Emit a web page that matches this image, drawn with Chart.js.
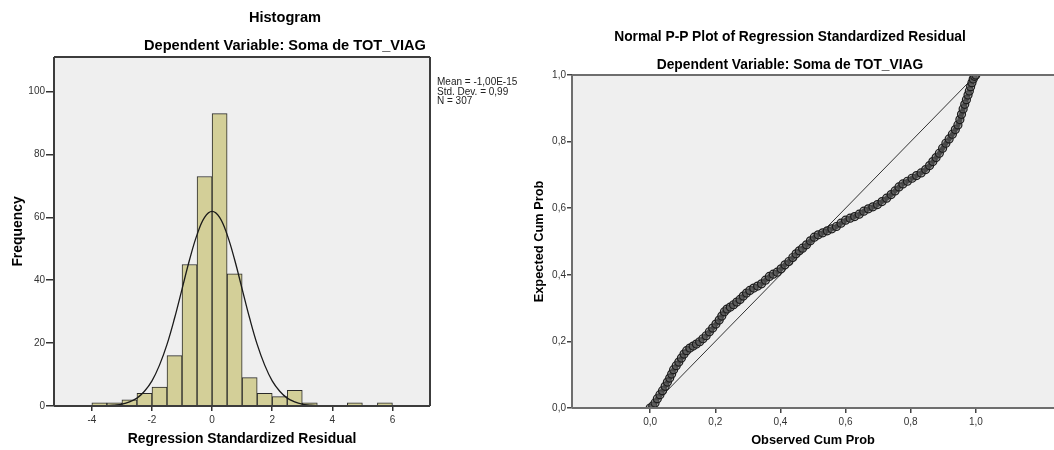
<!DOCTYPE html>
<html>
<head>
<meta charset="utf-8">
<script src="https://cdn.jsdelivr.net/npm/chart.js@4.4.0/dist/chart.umd.min.js"></script>
<style>
  html, body { margin: 0; padding: 0; background: #fff; overflow: hidden; }
  body { width: 1054px; height: 450px; position: relative; font-family: "Liberation Sans", Arial, sans-serif; }
  canvas { position: absolute; top: 0; }
  #histCanvas { left: 0; }
  #ppCanvas { left: 520px; }
  .title { position: absolute; text-align: center; font-weight: bold; color: #000; line-height: 1; white-space: nowrap; }
  .stats { position: absolute; left: 437px; top: 77px; font-size: 10px; line-height: 9.5px; color: #222; white-space: nowrap; }
</style>
</head>
<body>
<canvas id="histCanvas" width="520" height="450"></canvas>
<canvas id="ppCanvas" width="560" height="450"></canvas>

<div class="title" style="left:0;width:570px;top:10px;font-size:14.6px">Histogram</div>
<div class="title" style="left:0;width:570px;top:38px;font-size:14.6px">Dependent Variable: Soma de TOT_VIAG</div>
<div class="stats">Mean = -1,00E-15<br>Std. Dev. = 0,99<br>N = 307</div>
<div class="title" style="left:520px;width:540px;top:30px;font-size:13.8px">Normal P-P Plot of Regression Standardized Residual</div>
<div class="title" style="left:520px;width:540px;top:57.5px;font-size:13.8px">Dependent Variable: Soma de TOT_VIAG</div>

<script>
// Histogram bins (centre of each 0.5 wide bin) and counts
const binCenters = [-3.75, -3.25, -2.75, -2.25, -1.75, -1.25, -0.75, -0.25, 0.25, 0.75,
                    1.25, 1.75, 2.25, 2.75, 3.25, 3.75, 4.25, 4.75, 5.25, 5.75];
const binCounts = [1, 1, 2, 4, 6, 16, 45, 73, 93, 42,
                   9, 4, 3, 5, 1, 0, 0, 1, 0, 1];

// normal curve
const curveX = [-4, -3.75, -3.5, -3.25, -3, -2.75, -2.5, -2.25, -2, -1.75, -1.5, -1.25, -1, -0.75, -0.5, -0.25,
                0, 0.25, 0.5, 0.75, 1, 1.25, 1.5, 1.75, 2, 2.25, 2.5, 2.75, 3, 3.25, 3.5, 3.75, 4];
const curveY = [0, 0.1, 0.1, 0.3, 0.6, 1.3, 2.5, 4.7, 8.0, 13.0, 19.6, 27.9, 37.2, 46.5, 54.5, 60.0,
                61.9, 60.0, 54.5, 46.5, 37.2, 27.9, 19.6, 13.0, 8.0, 4.7, 2.5, 1.3, 0.6, 0.3, 0.1, 0.1, 0];

const histXTicks = [-4, -2, 0, 2, 4, 6];
const histYTicks = [0, 20, 40, 60, 80, 100];

// P-P plot: observed vs expected cumulative probability
const ppObserved = [0.000, 0.008, 0.015, 0.022, 0.030, 0.038, 0.046, 0.053, 0.060, 0.066,
  0.072, 0.080, 0.088, 0.096, 0.104, 0.112, 0.122, 0.132, 0.142, 0.152,
  0.162, 0.172, 0.182, 0.192, 0.202, 0.212, 0.220, 0.228, 0.236, 0.246,
  0.256, 0.266, 0.276, 0.286, 0.296, 0.306, 0.318, 0.330, 0.342, 0.354,
  0.366, 0.378, 0.390, 0.402, 0.414, 0.426, 0.438, 0.448, 0.458, 0.468,
  0.480, 0.492, 0.504, 0.516, 0.530, 0.544, 0.558, 0.572, 0.586, 0.600,
  0.614, 0.628, 0.642, 0.656, 0.670, 0.684, 0.698, 0.712, 0.726, 0.740,
  0.752, 0.764, 0.776, 0.790, 0.804, 0.818, 0.832, 0.846, 0.858, 0.868,
  0.878, 0.888, 0.898, 0.908, 0.918, 0.928, 0.937, 0.945, 0.951, 0.956,
  0.961, 0.966, 0.971, 0.976, 0.980, 0.984, 0.988, 0.992, 0.996, 1.000];
const ppExpected = [0.000, 0.006, 0.015, 0.028, 0.040, 0.052, 0.065, 0.078, 0.090, 0.102,
  0.115, 0.127, 0.138, 0.150, 0.162, 0.172, 0.180, 0.186, 0.192, 0.199,
  0.208, 0.217, 0.229, 0.240, 0.252, 0.264, 0.276, 0.289, 0.297, 0.303,
  0.310, 0.318, 0.326, 0.336, 0.345, 0.353, 0.360, 0.366, 0.373, 0.384,
  0.395, 0.402, 0.408, 0.418, 0.430, 0.440, 0.452, 0.463, 0.472, 0.480,
  0.490, 0.502, 0.513, 0.520, 0.526, 0.532, 0.538, 0.545, 0.555, 0.564,
  0.570, 0.575, 0.582, 0.591, 0.598, 0.604, 0.611, 0.620, 0.630, 0.641,
  0.652, 0.664, 0.673, 0.681, 0.690, 0.698, 0.706, 0.716, 0.728, 0.740,
  0.752, 0.765, 0.780, 0.795, 0.808, 0.822, 0.836, 0.850, 0.866, 0.882,
  0.898, 0.912, 0.926, 0.940, 0.952, 0.965, 0.977, 0.988, 0.996, 1.000];
const diagLine = [0, 1];

const ppTicks = [0, 0.2, 0.4, 0.6, 0.8, 1.0];
const ppTickLabels = ['0,0', '0,2', '0,4', '0,6', '0,8', '1,0'];

const FONT = '"Liberation Sans", Arial, sans-serif';
Chart.defaults.font.family = FONT;

// plot background + frame lines
const frame = {
  id: 'frame',
  beforeDraw(chart, args, opts) {
    const { ctx, chartArea: a } = chart;
    ctx.save();
    ctx.fillStyle = opts.fill;
    ctx.fillRect(a.left, a.top, a.width, a.height);
    ctx.restore();
  },
  afterDraw(chart, args, opts) {
    const { ctx, chartArea: a } = chart;
    ctx.save();
    ctx.strokeStyle = opts.color;
    ctx.lineWidth = opts.width;
    ctx.beginPath();
    if (opts.sides.includes('top')) { ctx.moveTo(a.left, a.top); ctx.lineTo(a.right, a.top); }
    if (opts.sides.includes('bottom')) { ctx.moveTo(a.left, a.bottom); ctx.lineTo(a.right, a.bottom); }
    if (opts.sides.includes('left')) { ctx.moveTo(a.left, a.top); ctx.lineTo(a.left, a.bottom); }
    if (opts.sides.includes('right')) { ctx.moveTo(a.right, a.top); ctx.lineTo(a.right, a.bottom); }
    ctx.stroke();
    ctx.restore();
  }
};

// Histogram
const barPoints = binCenters.map((x, i) => ({ x, y: binCounts[i] > 0 ? binCounts[i] : null }));
const curvePoints = curveX.map((x, i) => ({ x, y: curveY[i] }));

new Chart(document.getElementById('histCanvas'), {
  type: 'bar',
  data: {
    datasets: [
      {
        type: 'line',
        data: curvePoints,
        borderColor: '#1a1a1a',
        borderWidth: 1.3,
        pointRadius: 0,
        tension: 0.4,
        order: 0
      },
      {
        type: 'bar',
        data: barPoints,
        backgroundColor: '#d3cf98',
        borderColor: '#2a2a2a',
        borderWidth: 1,
        barPercentage: 1,
        categoryPercentage: 1,
        order: 1
      }
    ]
  },
  options: {
    responsive: false,
    animation: false,
    layout: { padding: { top: 57, right: 90, bottom: 0, left: 0 } },
    plugins: {
      legend: { display: false },
      tooltip: { enabled: false },
      frame: { fill: '#efefef', color: '#3c3c3c', width: 2, sides: ['top', 'bottom', 'left', 'right'] }
    },
    scales: {
      x: {
        type: 'linear',
        min: -5.26,
        max: 7.25,
        offset: false,
        afterBuildTicks: (axis) => { axis.ticks = histXTicks.map(v => ({ value: v })); },
        afterFit: (axis) => { axis.height = 44; },
        grid: { offset: false, drawOnChartArea: false, tickLength: 5, color: '#333', lineWidth: 1.5 },
        border: { display: false },
        ticks: { autoSkip: false, maxRotation: 0, padding: 3, color: '#333', font: { size: 10 } },
        title: {
          display: true, text: 'Regression Standardized Residual', color: '#000',
          font: { size: 13.9, weight: 'bold' }, padding: { top: 0, bottom: 2 }
        }
      },
      y: {
        min: 0,
        max: 111,
        afterBuildTicks: (axis) => { axis.ticks = histYTicks.map(v => ({ value: v })); },
        afterFit: (axis) => { axis.width = 54; },
        grid: { drawOnChartArea: false, tickLength: 8, color: '#333', lineWidth: 1.5 },
        border: { display: false },
        ticks: { autoSkip: false, padding: 1, color: '#333', font: { size: 10 } },
        title: {
          display: true, text: 'Frequency', color: '#000',
          font: { size: 13.9, weight: 'bold' }, padding: { top: 10, bottom: 0 }
        }
      }
    }
  },
  plugins: [frame]
});

// Normal P-P plot
const ppPoints = ppObserved.map((x, i) => ({ x, y: ppExpected[i] }));
const diagPoints = diagLine.map(v => ({ x: v, y: v }));

new Chart(document.getElementById('ppCanvas'), {
  type: 'scatter',
  data: {
    datasets: [
      {
        data: diagPoints,
        showLine: true,
        borderColor: '#333',
        borderWidth: 1,
        pointRadius: 0,
        order: 1
      },
      {
        data: ppPoints,
        showLine: true,
        borderColor: '#262626',
        borderWidth: 5,
        pointRadius: 4,
        pointBorderWidth: 1.2,
        pointBorderColor: '#1c1c1c',
        pointBackgroundColor: 'rgba(110,110,110,0.5)',
        order: 0
      }
    ]
  },
  options: {
    responsive: false,
    animation: false,
    layout: { padding: { top: 75, right: 26, bottom: 0, left: 0 } },
    plugins: {
      legend: { display: false },
      tooltip: { enabled: false },
      frame: { fill: '#efefef', color: '#6e6e6e', width: 2, sides: ['top', 'bottom', 'left'] }
    },
    scales: {
      x: {
        type: 'linear',
        min: -0.24,
        max: 1.24,
        afterBuildTicks: (axis) => { axis.ticks = ppTicks.map(v => ({ value: v })); },
        afterFit: (axis) => { axis.height = 42; },
        grid: { drawOnChartArea: false, tickLength: 5, color: '#444', lineWidth: 1.5 },
        border: { display: false },
        ticks: {
          autoSkip: false, maxRotation: 0, padding: 3, color: '#333', font: { size: 10 },
          callback: (v) => ppTickLabels[ppTicks.indexOf(v)]
        },
        title: {
          display: true, text: 'Observed Cum Prob', color: '#000',
          font: { size: 12.8, weight: 'bold' }, padding: { top: 0, bottom: 2 }
        }
      },
      y: {
        min: 0,
        max: 1,
        afterBuildTicks: (axis) => { axis.ticks = ppTicks.map(v => ({ value: v })); },
        afterFit: (axis) => { axis.width = 52; },
        grid: { drawOnChartArea: false, tickLength: 5, color: '#444', lineWidth: 1.5 },
        border: { display: false },
        ticks: {
          autoSkip: false, padding: 1, color: '#333', font: { size: 10 },
          callback: (v) => ppTickLabels[ppTicks.indexOf(v)]
        },
        title: {
          display: true, text: 'Expected Cum Prob', color: '#000',
          font: { size: 12.8, weight: 'bold' }, padding: { top: 12, bottom: 0 }
        }
      }
    }
  },
  plugins: [frame]
});
</script>
</body>
</html>
